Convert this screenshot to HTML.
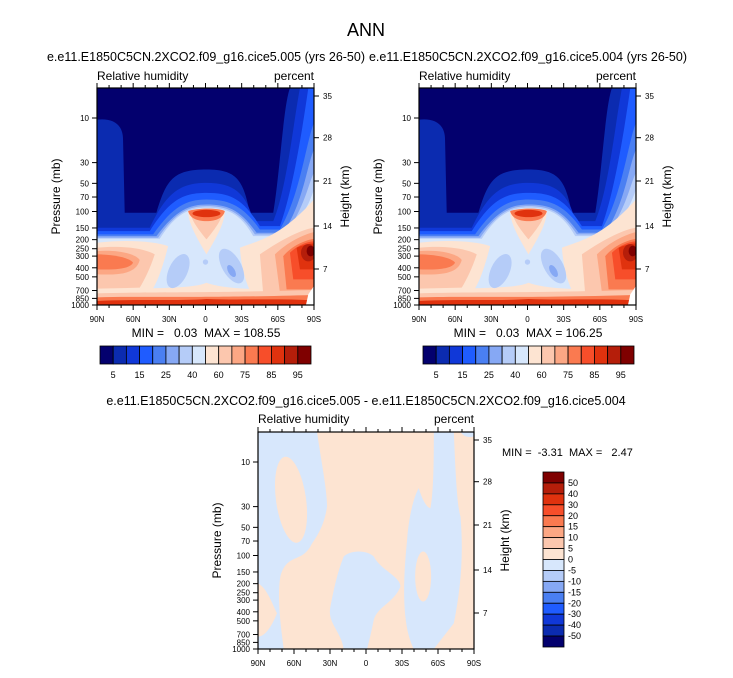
<!DOCTYPE html>
<html><head><meta charset="utf-8">
<style>
html,body{margin:0;padding:0;background:#fff;}
body{width:733px;height:673px;overflow:hidden;font-family:"Liberation Sans",sans-serif;}
svg text{font-family:"Liberation Sans",sans-serif;fill:#000;}
.pre{white-space:pre;}
</style></head>
<body>
<svg id="chart" width="733" height="673" xmlns="http://www.w3.org/2000/svg">
<defs>
<clipPath id="clipA"><rect x="172" y="145" width="650" height="652"/></clipPath>
<clipPath id="clipB"><rect x="173" y="127" width="649" height="650"/></clipPath>
<g id="fieldRH" clip-path="url(#clipA)">
 <rect x="172" y="145" width="650" height="652" fill="#03006e"/>
 <path fill="#0b2bb0" d="M172,240 C215,235 250,250 250,300 L255,520 L350,520 C380,420 400,390 500,390 C590,390 610,420 630,520 L700,520 C720,400 730,200 750,145 L822,145 L822,797 L172,797 Z"/>
 <path fill="#1038d8" d="M172,565 L330,565 C380,460 420,430 500,430 C580,430 620,460 640,545 L700,545 C740,450 760,250 780,145 L822,145 L822,797 L172,797 Z"/>
 <path fill="#1f5cff" d="M172,575 L330,575 C390,480 430,460 500,460 C575,460 610,480 660,560 L720,560 C760,450 790,250 805,145 L822,145 V797 H172Z"/>
 <path fill="#4a7ff2" d="M172,585 L340,585 C400,500 440,480 500,480 C570,480 610,500 660,570 L720,570 C780,470 800,300 822,250 V797 H172Z"/>
 <path fill="#86a8f4" d="M172,590 L350,590 C410,510 450,495 500,495 C565,495 600,510 650,580 L730,580 C790,490 800,380 822,330 V797H172Z"/>
 <path fill="#b5ccf8" d="M172,595 L355,595 C410,515 450,500 500,500 C560,500 600,515 645,585 L735,585 C795,505 805,430 822,400 V797H172Z"/>
 <path fill="#d7e7fc" d="M172,598 L360,598 C410,520 450,505 500,505 C560,505 600,520 640,590 L740,590 C800,520 815,470 822,450 V797 H172Z"/>
 <path fill="#fde4d2" d="M172,610 C260,600 340,605 385,620 C370,680 350,740 330,760 C300,770 220,770 172,770 Z"/>
 <path fill="#fde4d2" d="M600,625 C650,605 720,595 822,480 V770 H640 C620,740 605,690 600,625Z"/>
 <path fill="#fde4d2" d="M445,515 C470,505 535,505 555,515 C555,555 520,610 500,645 C480,610 445,555 445,515Z"/>
 <path fill="#fde4d2" d="M172,755 C300,742 450,752 500,730 C560,752 700,755 822,738 V797 H172Z"/>
 <ellipse fill="#b5ccf8" cx="415" cy="695" rx="28" ry="55" transform="rotate(25 415 695)"/>
 <ellipse fill="#b5ccf8" cx="575" cy="680" rx="28" ry="58" transform="rotate(-30 575 680)"/>
 <ellipse fill="#86a8f4" cx="575" cy="695" rx="10" ry="20" transform="rotate(-30 575 695)"/>
 <ellipse fill="#b5ccf8" cx="497" cy="668" rx="8" ry="8"/>
 <path fill="#fcc7ae" d="M172,625 C240,618 310,625 345,645 C330,690 315,720 300,745 L172,748Z"/>
 <path fill="#fca784" d="M172,635 C240,630 290,645 300,662 C290,700 250,708 172,705Z"/>
 <path fill="#fa7a50" d="M172,645 C220,645 270,655 280,670 C270,688 230,692 172,690Z"/>
 <path fill="#fcc7ae" d="M660,645 C710,610 780,570 822,565 V765 H670Z"/>
 <path fill="#fca784" d="M705,645 C740,610 790,585 822,578 V760 H720Z"/>
 <path fill="#fa7a50" d="M730,650 C760,615 800,602 822,598 V750 H740Z"/>
 <path fill="#f74e2a" d="M750,640 C780,612 810,606 822,606 V720 H760Z"/>
 <path fill="#e0320e" d="M770,625 C800,612 822,612 822,612 V690 H780Z"/>
 <ellipse fill="#b51e0a" cx="805" cy="640" rx="22" ry="26"/>
 <ellipse fill="#7f0000" cx="812" cy="635" rx="12" ry="16"/>
 <path fill="#fcc7ae" d="M450,515 C480,505 530,505 550,515 C545,545 520,575 500,600 C480,575 455,545 450,515Z"/>
 <path fill="#fa7a50" d="M445,515 C470,505 540,505 555,515 C550,535 530,545 500,545 C470,545 450,535 445,515Z"/>
 <ellipse fill="#e0320e" cx="500" cy="522" rx="42" ry="11"/>
 <path fill="#fcc7ae" d="M172,762 C350,757 450,762 822,752 V797 H172Z"/>
 <path fill="#fa7a50" d="M172,774 C350,770 450,777 822,767 V797 H172Z"/>
 <path fill="#e0320e" d="M172,785 C300,779 420,785 500,779 C600,783 700,777 822,783 V797 H172Z"/>
 <path fill="#ffffff" d="M805,765 L822,740 V797 H798Z"/>
</g>
<g id="fieldDiff" clip-path="url(#clipB)">
 <rect x="173" y="127" width="649" height="650" fill="#fde4d2"/>
 <path fill="#d7e7fc" d="M173,127 L350,127 C360,200 380,300 380,350 C370,420 340,450 330,470 C300,520 260,490 240,560 C230,620 240,700 250,777 L173,777Z"/>
 <ellipse fill="#fde4d2" cx="272" cy="330" rx="45" ry="130" transform="rotate(-8 272 330)"/>
 <path fill="#fde4d2" d="M173,580 C200,595 215,640 230,670 C210,720 190,740 173,740Z"/>
 <path fill="#d7e7fc" d="M430,500 C450,480 500,480 520,500 C540,540 600,560 600,590 C580,640 530,650 520,690 C510,740 500,777 500,777 L430,777 C420,720 380,700 390,650 C400,600 410,550 430,500Z"/>
 <path fill="#d7e7fc" d="M700,127 L760,127 C765,250 770,350 780,380 C790,500 780,600 760,700 L700,777 L640,777 C600,700 610,550 620,450 C625,380 640,320 655,295 C665,330 680,355 690,355 C700,300 700,200 700,127Z"/>
 <ellipse fill="#fde4d2" cx="668" cy="560" rx="24" ry="75"/>
 <path fill="#d7e7fc" d="M780,127 L822,127 L822,140 C800,145 790,140 780,127Z"/>
</g>
</defs>

<text x="366" y="36" font-size="18" text-anchor="middle">ANN</text>

<g>
 <text x="206" y="61" font-size="12.5" text-anchor="middle">e.e11.E1850C5CN.2XCO2.f09_g16.cice5.005 (yrs 26-50)</text>
 <text x="97" y="80" font-size="12">Relative humidity</text>
 <text x="314" y="80" font-size="12" text-anchor="end">percent</text>
 <use href="#fieldRH" transform="translate(97,88) scale(0.3338,0.3328) translate(-172,-145)"/>
 <text class="pre" x="206" y="337" font-size="12" text-anchor="middle">MIN =   0.03  MAX = 108.55</text>
</g>
<g>
 <text x="528" y="61" font-size="12.5" text-anchor="middle">e.e11.E1850C5CN.2XCO2.f09_g16.cice5.004 (yrs 26-50)</text>
 <text x="419" y="80" font-size="12">Relative humidity</text>
 <text x="636" y="80" font-size="12" text-anchor="end">percent</text>
 <use href="#fieldRH" transform="translate(419,88) scale(0.3338,0.3328) translate(-172,-145)"/>
 <text class="pre" x="528" y="337" font-size="12" text-anchor="middle">MIN =   0.03  MAX = 106.25</text>
</g>
<g>
 <text x="366" y="405" font-size="12.5" text-anchor="middle">e.e11.E1850C5CN.2XCO2.f09_g16.cice5.005 - e.e11.E1850C5CN.2XCO2.f09_g16.cice5.004</text>
 <text x="258" y="423" font-size="12">Relative humidity</text>
 <text x="474" y="423" font-size="12" text-anchor="end">percent</text>
 <use href="#fieldDiff" transform="translate(258,432) scale(0.3336,0.3338) translate(-173,-127)"/>
 <text class="pre" x="502" y="456" font-size="11">MIN =  -3.31  MAX =   2.47</text>
</g>
<g id="axes"></g>
</svg>
<script>
const pressureTicks = [10,30,50,70,100,150,200,250,300,400,500,700,850,1000];
const heightTicks = [35,28,21,14,7];
const heightTickY = [8,49.7,93,138,181];
const latLabels = ["90N","60N","30N","0","30S","60S","90S"];
const rhLevels = [5,10,15,20,25,30,40,50,60,70,75,80,85,90,95];
const rhLabels = ["5","15","25","40","60","75","85","95"];
const diffLevels = [50,40,30,20,15,10,5,0,-5,-10,-15,-20,-30,-40,-50];
const colors = ["#03006e","#0b2bb0","#1038d8","#1f5cff","#4a7ff2","#86a8f4","#b5ccf8","#d7e7fc","#fde4d2","#fcc7ae","#fca784","#fa7a50","#f74e2a","#e0320e","#b51e0a","#7f0000"];

const NS="http://www.w3.org/2000/svg";
const root=document.getElementById('axes');
function mk(tag,attrs,parent){const e=document.createElementNS(NS,tag);for(const k in attrs)e.setAttribute(k,attrs[k]);(parent||root).appendChild(e);return e;}

function yP(p,top){return top+217+93.5*(Math.log10(p)-3);}
function panel(x0,y0,w,h,name){
  const g=mk('g',{});
  
  
  const fr=mk('rect',{x:x0,y:y0,width:w,height:h,fill:'none',stroke:'#000','stroke-width':1.2},g);
  
  
  pressureTicks.forEach(p=>{
    const y=yP(p,y0);
    mk('line',{x1:x0-5,x2:x0,y1:y,y2:y,stroke:'#000','stroke-width':1},g);
    const t=mk('text',{x:x0-8,y:y+3,'font-size':8,'text-anchor':'end'},g);
    t.textContent=p;
    
    
  });
  heightTicks.forEach((hv,i)=>{
    const y=y0+heightTickY[i];
    mk('line',{x1:x0+w,x2:x0+w+5,y1:y,y2:y,stroke:'#000','stroke-width':1},g);
    const t=mk('text',{x:x0+w+9,y:y+3,'font-size':8},g);
    t.textContent=hv;
    
    
  });
  for(let i=0;i<=18;i++){
    const x=x0+w*i/18, len=(i%3===0)?5:3;
    mk('line',{x1:x,x2:x,y1:y0+h,y2:y0+h+len,stroke:'#000','stroke-width':1},g);
    mk('line',{x1:x,x2:x,y1:y0,y2:y0-len,stroke:'#000','stroke-width':1},g);
  }
  latLabels.forEach((l,i)=>{
    const t=mk('text',{x:x0+w*i/6,y:y0+h+17,'font-size':8,'text-anchor':'middle'},g);
    t.textContent=l;
    
    
  });
  const yl=mk('text',{x:0,y:0,'font-size':12,'text-anchor':'middle',transform:`translate(${x0-37},${y0+h/2}) rotate(-90)`},g);
  yl.textContent='Pressure (mb)';
  
  
  const yr=mk('text',{x:0,y:0,'font-size':12,'text-anchor':'middle',transform:`translate(${x0+w+35},${y0+h/2}) rotate(-90)`},g);
  yr.textContent='Height (km)';
  
  
}
panel(97,88,217,217,'panel-005');
panel(419,88,217,217,'panel-004');
panel(258,432,216,217,'panel-diff');

function hbar(x0,y0,w,h,name){
  const g=mk('g',{});
  
  
  const bw=w/colors.length;
  colors.forEach((c,i)=>{
    const r=mk('rect',{x:x0+i*bw,y:y0,width:bw,height:h,fill:c,stroke:'#000','stroke-width':0.8},g);
    
    
  });
  rhLevels.forEach((v,i)=>{
    const idx=rhLabels.indexOf(String(v));
    if(idx<0)return;
    const t=mk('text',{x:x0+(i+1)*bw,y:y0+h+14,'font-size':9,'text-anchor':'middle'},g);
    t.textContent=v;
    
    
  });
}
hbar(100,346,211,18,'colorbar-005');
hbar(423,346,211,18,'colorbar-004');

(function(){
  const x0=543,y0=472,w=21,h=175;
  const g=mk('g',{});
  
  
  const bh=h/colors.length;
  colors.slice().reverse().forEach((c,i)=>{
    const r=mk('rect',{x:x0,y:y0+i*bh,width:w,height:bh,fill:c,stroke:'#000','stroke-width':0.8},g);
    
    
  });
  diffLevels.forEach((v,i)=>{
    const t=mk('text',{x:x0+w+4,y:y0+(i+1)*bh+3,'font-size':9},g);
    t.textContent=v;
    
    
  });
})();
</script>
</body></html>
